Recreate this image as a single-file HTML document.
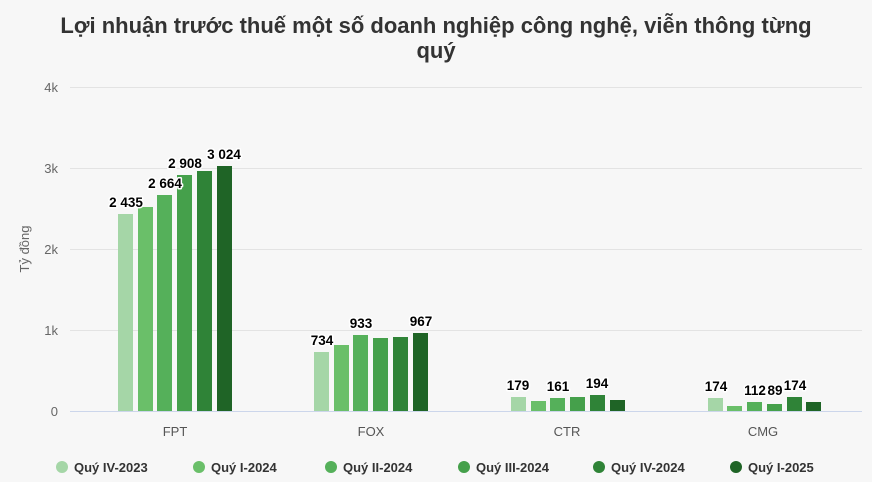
<!DOCTYPE html>
<html><head><meta charset="utf-8"><style>
html,body{margin:0;padding:0;background:#f7f7f7;overflow:hidden;width:872px;height:482px;}
svg{display:block;}
text{font-family:"Liberation Sans",sans-serif;}
</style></head><body>
<svg width="872" height="482" viewBox="0 0 872 482" xmlns="http://www.w3.org/2000/svg">
<rect width="872" height="482" fill="#f7f7f7"/>
<text x="436" y="33" text-anchor="middle" font-size="22" font-weight="bold" fill="#333">Lợi nhuận trước thuế một số doanh nghiệp công nghệ, viễn thông từng</text>
<text x="436" y="58" text-anchor="middle" font-size="22" font-weight="bold" fill="#333">quý</text>
<g stroke="#e3e3e3" stroke-width="1">
<line x1="70" x2="862" y1="87.5" y2="87.5"/><line x1="70" x2="862" y1="168.5" y2="168.5"/>
<line x1="70" x2="862" y1="249.5" y2="249.5"/><line x1="70" x2="862" y1="330.5" y2="330.5"/>
</g>
<line x1="70" x2="862" y1="411.5" y2="411.5" stroke="#ccd6eb"/>
<g font-size="13" fill="#666" text-anchor="end">
<text x="58" y="92">4k</text><text x="58" y="173">3k</text><text x="58" y="254">2k</text><text x="58" y="335">1k</text><text x="58" y="416">0</text>
</g>
<text transform="translate(29,249) rotate(-90)" text-anchor="middle" font-size="13" fill="#666">Tỷ đồng</text>
<g font-size="13" fill="#555" text-anchor="middle">
<text x="175" y="436">FPT</text><text x="371" y="436">FOX</text><text x="567" y="436">CTR</text><text x="763" y="436">CMG</text>
</g>
<g>
<rect x="118" y="214" width="15" height="197" fill="#a5d6a7"/>
<rect x="138" y="207" width="15" height="204" fill="#6abf69"/>
<rect x="157" y="195" width="15" height="216" fill="#55b05a"/>
<rect x="177" y="175" width="15" height="236" fill="#45a04b"/>
<rect x="197" y="171" width="15" height="240" fill="#2f8337"/>
<rect x="217" y="166" width="15" height="245" fill="#1f6426"/>
<rect x="314" y="352" width="15" height="59" fill="#a5d6a7"/>
<rect x="334" y="345" width="15" height="66" fill="#6abf69"/>
<rect x="353" y="335" width="15" height="76" fill="#55b05a"/>
<rect x="373" y="338" width="15" height="73" fill="#45a04b"/>
<rect x="393" y="337" width="15" height="74" fill="#2f8337"/>
<rect x="413" y="333" width="15" height="78" fill="#1f6426"/>
<rect x="511" y="397" width="15" height="14" fill="#a5d6a7"/>
<rect x="531" y="401" width="15" height="10" fill="#6abf69"/>
<rect x="550" y="398" width="15" height="13" fill="#55b05a"/>
<rect x="570" y="397" width="15" height="14" fill="#45a04b"/>
<rect x="590" y="395" width="15" height="16" fill="#2f8337"/>
<rect x="610" y="400" width="15" height="11" fill="#1f6426"/>
<rect x="708" y="398" width="15" height="13" fill="#a5d6a7"/>
<rect x="727" y="406" width="15" height="5" fill="#6abf69"/>
<rect x="747" y="402" width="15" height="9" fill="#55b05a"/>
<rect x="767" y="404" width="15" height="7" fill="#45a04b"/>
<rect x="787" y="397" width="15" height="14" fill="#2f8337"/>
<rect x="806" y="402" width="15" height="9" fill="#1f6426"/>
</g>
<g font-size="13.5" font-weight="bold" fill="#000" text-anchor="middle" stroke="#fff" stroke-width="3" paint-order="stroke" stroke-linejoin="round">
<text x="126" y="207">2 435</text><text x="165" y="188">2 664</text><text x="185" y="168">2 908</text><text x="224" y="159">3 024</text>
<text x="322" y="345">734</text><text x="361" y="328">933</text><text x="421" y="326">967</text>
<text x="518" y="390">179</text><text x="558" y="391">161</text><text x="597" y="388">194</text>
<text x="716" y="391">174</text><text x="755" y="395">112</text><text x="775" y="395">89</text><text x="795" y="390">174</text>
</g>
<g font-size="13" font-weight="bold" fill="#333">
<circle cx="62" cy="467" r="6" fill="#a5d6a7"/><text x="74" y="472">Quý IV-2023</text>
<circle cx="199" cy="467" r="6" fill="#6abf69"/><text x="211" y="472">Quý I-2024</text>
<circle cx="331" cy="467" r="6" fill="#55b05a"/><text x="343" y="472">Quý II-2024</text>
<circle cx="464" cy="467" r="6" fill="#45a04b"/><text x="476" y="472">Quý III-2024</text>
<circle cx="599" cy="467" r="6" fill="#2f8337"/><text x="611" y="472">Quý IV-2024</text>
<circle cx="736" cy="467" r="6" fill="#1f6426"/><text x="748" y="472">Quý I-2025</text>
</g>
</svg>
</body></html>
